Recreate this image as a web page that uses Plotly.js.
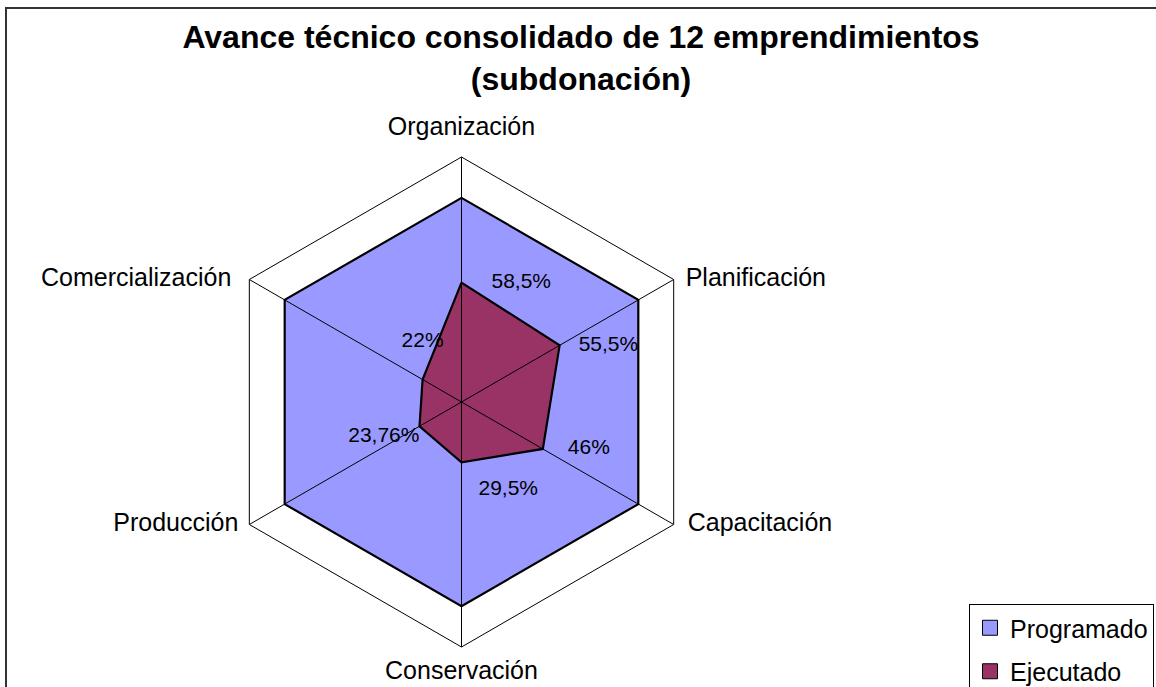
<!DOCTYPE html>
<html>
<head>
<meta charset="utf-8">
<script src="https://cdn.plot.ly/plotly-3.0.1.min.js"></script>
<style>
  html, body { margin: 0; padding: 0; background: #ffffff; }
  #chart { width: 1156px; height: 687px; }
</style>
</head>
<body>
<div id="chart"></div>
<script>
// ---- data ----
var categories = ['Organización', 'Planificación', 'Capacitación', 'Conservación', 'Producción', 'Comercialización'];
var programado = [100, 100, 100, 100, 100, 100];
var ejecutado = [58.5, 55.5, 46, 29.5, 23.76, 22];
var seriesNames = ['Programado', 'Ejecutado'];
var radialMax = 120;
var chartTitle = 'Avance técnico consolidado de 12 emprendimientos<br>(subdonación)';

// ---- styles ----
var FONT = '"Liberation Sans", Arial, sans-serif';
var colProg = '#9999FF';
var colEjec = '#993366';
// value-label placement per point (text side and offset via invisible marker size)
var labelPos = ['middle right', 'middle right', 'middle right', 'bottom right', 'bottom left', 'top center'];
var labelOffset = [30, 19, 25, 17, 0, 27];
// category-label placement at the outer ring
var catPos = ['top center', 'middle right', 'middle right', 'bottom center', 'middle left', 'middle left'];
var catOffset = [16, 12, 14, 13, 11, 18];

function closeLoop(arr) { return arr.concat([arr[0]]); }
function fmt(v) { return String(v).replace('.', ',') + '%'; }
function offsetToSize(o) { return o > 1 ? (o - 1) * 1.6 : 0; }

var spokeR = [], spokeT = [];
categories.forEach(function (c) { spokeR.push(0, radialMax, null); spokeT.push(c, c, null); });

var traces = [
  {
    type: 'scatterpolar', name: seriesNames[0],
    r: closeLoop(programado), theta: closeLoop(categories),
    mode: 'lines', fill: 'toself', fillcolor: colProg,
    line: { color: '#000000', width: 2.2 },
    showlegend: false, hoverinfo: 'skip'
  },
  {
    type: 'scatterpolar', name: seriesNames[1],
    r: closeLoop(ejecutado), theta: closeLoop(categories),
    mode: 'lines', fill: 'toself', fillcolor: colEjec,
    line: { color: '#000000', width: 2.2 },
    showlegend: false, hoverinfo: 'skip'
  },
  {
    type: 'scatterpolar', name: 'spokes',
    r: spokeR, theta: spokeT, mode: 'lines', connectgaps: false,
    line: { color: '#000000', width: 1 },
    showlegend: false, hoverinfo: 'skip'
  },
  {
    type: 'scatterpolar', name: 'labels',
    r: ejecutado, theta: categories,
    mode: 'markers+text',
    text: ejecutado.map(fmt),
    textposition: labelPos,
    textfont: { family: FONT, size: 21, color: '#000000' },
    marker: { size: labelOffset.map(offsetToSize), color: 'rgba(0,0,0,0)', line: { width: 0 } },
    showlegend: false, hoverinfo: 'skip'
  },
  {
    type: 'scatterpolar', name: 'categories',
    r: categories.map(function () { return radialMax; }), theta: categories,
    mode: 'markers+text',
    text: categories,
    textposition: catPos,
    textfont: { family: FONT, size: 25, color: '#000000' },
    marker: { size: catOffset.map(offsetToSize), color: 'rgba(0,0,0,0)', line: { width: 0 } },
    cliponaxis: false,
    showlegend: false, hoverinfo: 'skip'
  },
  // legend entries
  {
    type: 'scatterpolar', name: seriesNames[0], r: [null], theta: [null],
    mode: 'markers', marker: { symbol: 'square', size: 15, color: colProg, line: { color: '#000000', width: 1 } },
    showlegend: true, legendgroup: 'a', hoverinfo: 'skip'
  },
  {
    type: 'scatterpolar', name: seriesNames[1], r: [null], theta: [null],
    mode: 'markers', marker: { symbol: 'square', size: 15, color: colEjec, line: { color: '#000000', width: 1 } },
    showlegend: true, legendgroup: 'b', hoverinfo: 'skip'
  }
];

var W = 1156, H = 687;
var cx = 461.5, cy = 402, R = 245;

var layout = {
  width: W, height: H,
  margin: { l: 0, r: 0, t: 0, b: 0, autoexpand: false },
  paper_bgcolor: '#ffffff',
  font: { family: FONT, color: '#000000' },
  title: {
    text: chartTitle,
    font: { family: FONT, size: 32, color: '#000000', weight: 'bold' },
    x: 581 / W, xanchor: 'center',
    y: 1 - 48 / H, yanchor: 'top', xref: 'paper', yref: 'container'
  },
  polar: {
    domain: { x: [(cx - R) / W, (cx + R) / W], y: [(H - cy - R) / H, (H - cy + R) / H] },
    bgcolor: '#ffffff',
    gridshape: 'linear',
    angularaxis: {
      type: 'category', categoryorder: 'array', categoryarray: categories,
      rotation: 90, direction: 'clockwise',
      showline: true, linecolor: '#000000', linewidth: 1,
      showgrid: false, showticklabels: false,
      ticks: '', layer: 'above traces'
    },
    radialaxis: {
      range: [0, radialMax], visible: false, showgrid: false
    }
  },
  legend: {
    x: 969 / W, xanchor: 'left', y: 1 - 604 / H, yanchor: 'top',
    bgcolor: '#ffffff', bordercolor: '#000000', borderwidth: 1,
    font: { family: FONT, size: 25, color: '#000000' },
    traceorder: 'grouped', tracegroupgap: 8
  },
  shapes: [
    { type: 'rect', xref: 'paper', yref: 'paper', x0: 6 / W, x1: 1.2, y0: -0.2, y1: 1 - 8 / H,
      line: { color: '#333333', width: 2 }, fillcolor: 'rgba(0,0,0,0)', layer: 'below' }
  ],
  showlegend: true
};

Plotly.newPlot('chart', traces, layout, { displayModeBar: false, staticPlot: true });
</script>
</body>
</html>
